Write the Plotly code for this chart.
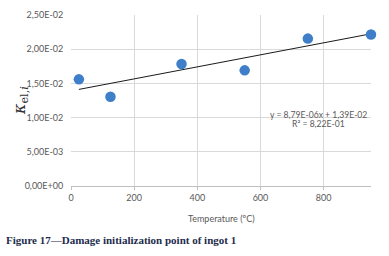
import plotly.graph_objects as go

temperature = [25, 125, 350, 550, 750, 950]
kappa = [0.01559, 0.01305, 0.01784, 0.01691, 0.02155, 0.02214]
trend_slope = 8.79e-06
trend_intercept = 1.39e-02
y_tickvals = [0, 0.005, 0.01, 0.015, 0.02, 0.025]
y_ticktext = ["0,00E+00", "5,00E-03", "1,00E-02", "1,50E-02", "2,00E-02", "2,50E-02"]
x_tickvals = [0, 200, 400, 600, 800]

trend_x = [min(temperature), max(temperature)]
trend_y = [trend_slope * v + trend_intercept for v in trend_x]

W, H = 389, 256
L, R, T, B = 71, 18, 15, 70
pw, ph = W - L - R, H - T - B


def px(xp):
    return (xp - L) / pw


def py(yp):
    return (H - B - yp) / ph


fig = go.Figure()
fig.add_trace(go.Scatter(x=trend_x, y=trend_y, mode="lines",
                         line=dict(color="#1a1a1a", width=1), hoverinfo="skip"))
fig.add_trace(go.Scatter(x=temperature, y=kappa, mode="markers",
                         marker=dict(size=10.5, color="#3f7fca"), cliponaxis=False))

gray = "#595959"
fig.update_layout(
    width=W, height=H,
    margin=dict(l=L, r=R, t=T, b=B, autoexpand=False),
    paper_bgcolor="white", plot_bgcolor="white",
    showlegend=False,
    font=dict(family="Lato", size=9, color=gray),
    xaxis=dict(range=[0, 950], tickvals=x_tickvals, showgrid=True, automargin=False,
               gridcolor="#d9d9d9", gridwidth=1, zeroline=False,
               showline=True, linecolor="#bfbfbf", linewidth=1,
               ticks="outside", ticklen=3, tickcolor="#bfbfbf",
               tickfont=dict(size=9, color=gray)),
    yaxis=dict(range=[0, 0.025], tickvals=y_tickvals, ticktext=y_ticktext, automargin=False,
               showgrid=True, gridcolor="#d9d9d9", gridwidth=1, zeroline=False,
               showline=False, ticks="outside", ticklen=5, tickcolor="rgba(0,0,0,0)",
               tickfont=dict(size=9, color=gray)),
    annotations=[
        dict(x=px(318), y=py(115), xref="paper", yref="paper",
             text="y = 8,79E-06x + 1,39E-02", showarrow=False,
             font=dict(size=8.6, color=gray), xanchor="center", yanchor="middle"),
        dict(x=px(318), y=py(124), xref="paper", yref="paper",
             text="R² = 8,22E-01", showarrow=False,
             font=dict(size=8.6, color=gray), xanchor="center", yanchor="middle"),
        dict(x=px(221), y=py(218), xref="paper", yref="paper",
             text="Temperature (ºC)", showarrow=False,
             font=dict(size=9, color=gray), xanchor="center", yanchor="middle"),
        dict(x=px(20), y=py(100), xref="paper", yref="paper", textangle=-90,
             text="<i>κ</i><sub>el,<i>i</i></sub>", showarrow=False,
             font=dict(family="DejaVu Serif", size=16, color="#333333"),
             xanchor="center", yanchor="middle"),
        dict(x=px(4), y=py(240), xref="paper", yref="paper",
             text="<b>Figure 17—Damage initialization point of ingot 1</b>",
             showarrow=False, font=dict(family="Liberation Serif", size=11, color="#1d2c4d"),
             xanchor="left", yanchor="middle"),
    ],
)
fig.write_html("out.html", config={"displayModeBar": False},
               post_script="document.body.style.margin='0';")
